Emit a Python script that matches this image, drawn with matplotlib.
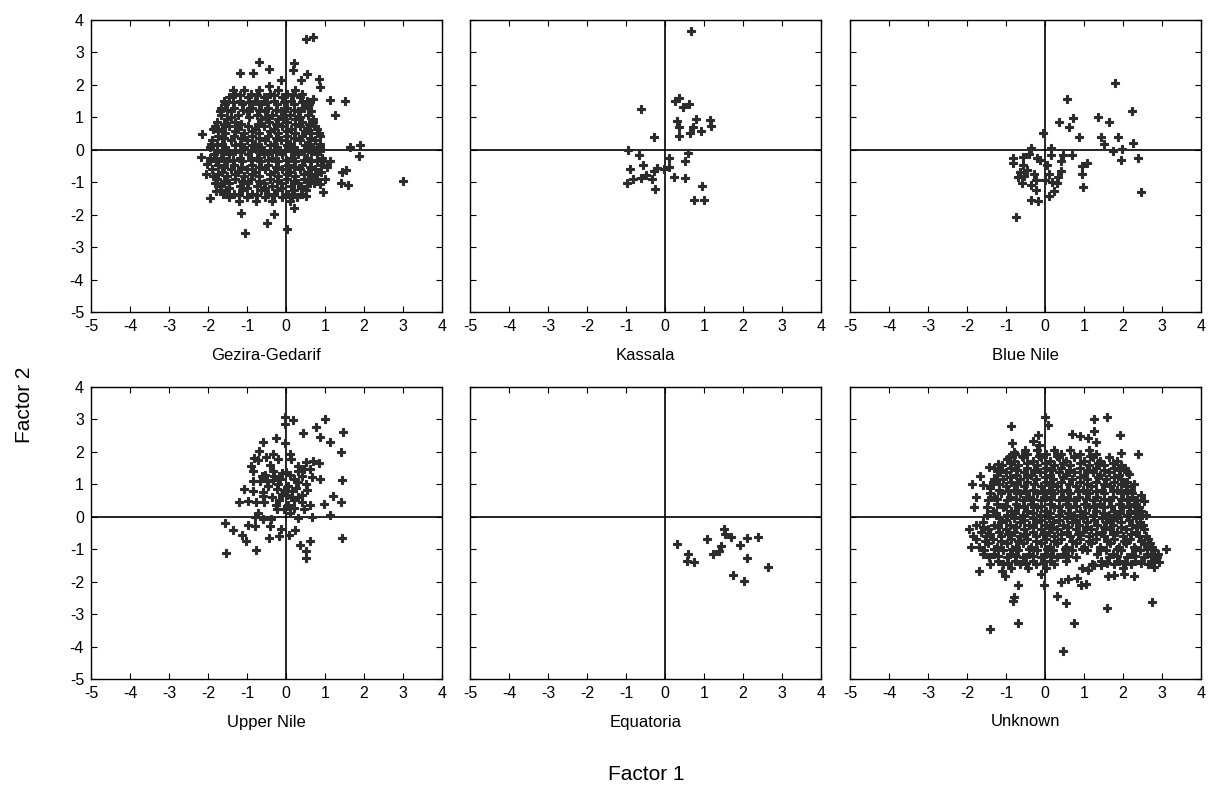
import numpy as np
import matplotlib.pyplot as plt

plt.rcParams['font.family'] = ['Liberation Sans', 'DejaVu Sans']
plt.rcParams['axes.unicode_minus'] = False

panel_names = ["Gezira-Gedarif", "Kassala", "Blue Nile", "Upper Nile", "Equatoria", "Unknown"]
ticks = [-5, -4, -3, -2, -1, 0, 1, 2, 3, 4]

# Kassala - individual points
kassala_x = [0.66, -0.62, 0.26, 0.37, 0.45, 0.62, 0.32, 0.80, 0.36, 0.73, 0.64, 0.92, 1.15, 1.17,
             0.36, -0.27, -0.96, -0.67, -0.57, -0.89, -0.82, -0.97, -0.62, -0.49, -0.34, -0.27,
             -0.21, -0.26, -0.02, 0.10, 0.10, 0.24, 0.50, 0.50, 0.60, 0.94, 0.75, 1.01]
kassala_y = [3.65, 1.26, 1.51, 1.61, 1.31, 1.41, 0.89, 0.96, 0.70, 0.69, 0.51, 0.57, 0.92, 0.72,
             0.41, 0.38, -0.02, -0.17, -0.46, -0.59, -0.89, -1.02, -0.87, -0.79, -0.91, -0.64,
             -0.55, -1.20, -0.58, -0.54, -0.26, -0.83, -0.87, -0.34, -0.11, -1.12, -1.54, -1.55]

# Blue Nile
bluenile_x = [1.79, 0.56, 2.24, 1.37, 1.65, 0.37, 0.72, 0.62, -0.06, 0.86, 1.44, 1.86, 1.52, 2.26,
              1.74, 1.97, 1.94, 2.39, 2.46, 1.08, 0.94, 0.94, 0.98, 0.70, 0.47, 0.40, 0.40, 0.34,
              0.30, 0.22, 0.10, 0.15, 0.15, 0.05, 0.11, 0.00, 0.17, -0.36, -0.42, -0.21, -0.13,
              -0.83, -0.83, -0.56, -0.56, -0.65, -0.70, -0.58, -0.45, -0.36, -0.29, -0.24, -0.23,
              -0.36, -0.19, -0.75, -0.53]
bluenile_y = [2.06, 1.57, 1.21, 1.02, 0.87, 0.85, 0.98, 0.71, 0.52, 0.38, 0.38, 0.38, 0.17, 0.21,
              -0.05, 0.01, -0.31, -0.26, -1.29, -0.42, -0.51, -0.75, -1.15, -0.15, -0.17, -0.36,
              -0.65, -0.85, -1.03, -1.28, -1.42, 0.05, -0.17, -0.48, -0.75, -0.94, -1.00, 0.05,
              -0.13, -0.24, -0.31, -0.26, -0.41, -0.21, -0.46, -0.69, -0.83, -1.03, -0.62, -1.08,
              -0.75, -0.92, -1.24, -1.54, -1.57, -2.08, -0.82]

# Equatoria
equatoria_x = [0.32, 0.60, 0.56, 0.75, 1.07, 1.22, 1.38, 1.43, 1.52, 1.54, 1.68, 1.92, 2.09, 2.39,
               2.10, 2.63, 1.74, 2.03]
equatoria_y = [-0.83, -1.14, -1.37, -1.40, -0.70, -1.14, -1.04, -0.90, -0.37, -0.52, -0.62, -0.86,
               -0.66, -0.63, -1.27, -1.55, -1.79, -1.97]

# Upper Nile
uppernile_x = [-0.03, -0.02, 0.18, 0.99, 0.76, 1.46, 0.43, 0.87, 1.12, 1.40, -0.60, -0.26, -0.03,
               -0.68, -0.33, -0.51, -0.21, 0.09, 0.14, -0.81, -0.72, -0.89, -0.40, -0.85, -0.33,
               0.01, 0.32, 0.50, 0.69, 0.84, 0.45, 0.62, 0.41, 0.67, 0.87, 1.43, -0.85, -0.66,
               -0.50, -0.33, -0.15, 0.21, -1.07, -0.85, -0.60, -0.23, -0.04, 0.15, 0.32, 0.55,
               -1.20, -0.98, -0.77, -0.56, -0.17, 0.03, 0.21, 0.41, 0.61, 0.97, 1.20, 1.42, -0.23,
               -0.04, 0.21, 0.45, -0.72, -0.79, 0.09, 0.32, 0.67, 1.12, -0.59, -0.38, -1.56, -1.37,
               -1.13, -1.02, -0.97, -0.79, -0.40, -0.44, -0.19, -0.12, 0.07, 0.22, 0.35, 0.61,
               0.50, 0.50, 1.44, -0.77, -1.54, -0.45, -0.10, 0.30, -0.62, 0.05,
               -0.55, -0.30, -0.10, 0.10, 0.30, -0.45, -0.20, 0.05, 0.25, 0.50, -0.60, -0.35,
               -0.10, 0.15, 0.40, -0.25]
uppernile_y = [3.07, 2.86, 2.98, 3.02, 2.78, 2.61, 2.58, 2.46, 2.30, 2.01, 2.32, 2.43, 2.28, 2.04,
               1.95, 1.84, 1.78, 1.95, 1.77, 1.81, 1.74, 1.58, 1.60, 1.40, 1.40, 1.38, 1.56, 1.69,
               1.71, 1.65, 1.47, 1.47, 1.25, 1.22, 1.17, 1.14, 1.09, 1.09, 1.09, 1.12, 1.15, 1.17,
               0.86, 0.78, 0.76, 0.86, 0.84, 0.78, 1.07, 0.81, 0.47, 0.50, 0.47, 0.47, 0.53, 0.66,
               0.53, 0.47, 0.37, 0.40, 0.64, 0.47, 0.25, 0.23, 0.27, 0.23, 0.12, -0.01, 0.12, -0.04,
               -0.01, 0.04, -0.06, -0.06, -0.19, -0.42, -0.55, -0.76, -0.25, -0.29, -0.27, -0.66,
               -0.58, -0.37, -0.55, -0.42, -0.86, -0.76, -1.07, -1.26, -0.66, -1.02, -1.12, 0.95,
               0.70, 0.62, 1.25, 0.35,
               1.30, 1.25, 1.35, 1.30, 1.40, 0.95, 1.00, 0.95, 0.90, 1.00, 0.65, 0.60,
               0.70, 0.62, 0.68, 0.35]

# Gezira-Gedarif: outlying points, then the dense core read row by row (y, x positions)
gezira_out_x = [0.50, 0.69, -0.70, -1.17, -0.85, -0.43, 0.21, 0.18, 0.54, 0.39, 0.84, 0.88, -0.13,
                -0.44, 1.12, 1.50, 1.26, 0.69, 0.56, -2.15, 1.65, 1.89, 1.86, -2.18, -2.03, -2.04,
                2.99, 1.44, 1.55, 1.41, 1.59, 1.12, 1.05, -1.94, -1.79, -1.15, -1.04, -0.50,
                -0.32, 0.03, 0.20, 0.50, 0.94, 0.99, 0.88]
gezira_out_y = [3.42, 3.49, 2.70, 2.38, 2.38, 2.50, 2.69, 2.47, 2.33, 2.16, 2.18, 1.92, 2.16,
                1.97, 1.54, 1.49, 1.08, 1.57, 1.34, 0.48, 0.10, 0.15, -0.19, -0.22, -0.43, -0.74,
                -0.96, -0.69, -0.62, -1.01, -1.10, -0.34, -0.53, -1.49, -1.28, -1.95, -2.55, -2.26,
                -1.98, -2.44, -1.80, -1.44, -1.31, -0.89, -1.05]
gezira_rows = [
    (1.84, [-1.36, -1.08, -0.68, -0.20, 0.24]),
    (1.73, [-1.30, -0.90, -0.42, 0.03, 0.42]),
    (1.68, [-1.18, -0.75, -0.30, 0.18]),
    (1.62, [-1.45, -0.97, -0.57, -0.09, 0.35]),
    (1.51, [-1.58, -1.19, -0.79, -0.31, 0.13, 0.53]),
    (1.46, [-1.35, -0.95, -0.50, -0.05, 0.40]),
    (1.40, [-1.56, -1.12, -0.64, -0.24, 0.20, 0.60]),
    (1.29, [-1.66, -1.34, -0.86, -0.46, 0.02, 0.46]),
    (1.24, [-1.52, -1.10, -0.68, -0.25, 0.20]),
    (1.18, [-1.70, -1.41, -1.01, -0.53, -0.13, 0.31, 0.63]),
    (1.07, [-1.67, -1.23, -0.75, -0.35, 0.09, 0.57]),
    (1.02, [-1.40, -0.95, -0.50, -0.08, 0.35]),
    (0.96, [-1.52, -0.64, -0.20, 0.24, 0.68]),
    (0.85, [-1.78, -1.30, -0.44, 0.02, 0.42, 0.70]),
    (0.80, [-1.60, -1.15, -0.72, -0.25, 0.22, 0.58]),
    (0.74, [-1.82, -1.45, -0.97, -0.57, -0.09, 0.35, 0.75]),
    (0.63, [-1.86, -1.63, -1.23, -0.79, -0.31, 0.13, 0.53, 0.80]),
    (0.58, [-1.75, -1.32, -0.88, -0.42, 0.03, 0.48]),
    (0.52, [-1.56, -1.08, -0.68, -0.20, 0.24, 0.64, 0.85]),
    (0.41, [-1.74, -1.34, -0.86, -0.46, 0.02, 0.42, 0.86]),
    (0.36, [-1.60, -1.15, -0.70, -0.25, 0.20, 0.62]),
    (0.30, [-1.89, -1.41, -1.01, -0.53, -0.13, 0.35, 0.75]),
    (0.19, [-1.93, -1.63, -1.19, -0.79, -0.31, 0.09, 0.57, 0.86]),
    (0.14, [-1.78, -1.32, -0.88, -0.42, 0.03, 0.48]),
    (0.08, [-1.96, -1.56, -1.08, -0.64, -0.24, 0.20, 0.68, 0.88]),
    (-0.03, [-1.78, -1.30, -0.90, -0.42, -0.02, 0.46, 0.88]),
    (-0.08, [-1.62, -1.15, -0.70, -0.25, 0.20, 0.64]),
    (-0.14, [-1.85, -1.45, -0.97, -0.57, -0.09, 0.31, 0.79]),
    (-0.25, [-1.95, -1.67, -1.19, -0.75, -0.35, 0.13, 0.53, 0.93]),
    (-0.30, [-1.80, -1.35, -0.90, -0.45, 0.00, 0.45, 0.80]),
    (-0.36, [-1.94, -1.52, -1.12, -0.64, -0.20, 0.24, 0.64, 0.96]),
    (-0.47, [-1.74, -1.34, -0.86, -0.46, 0.04, 0.42, 0.90]),
    (-0.52, [-1.58, -1.15, -0.70, -0.25, 0.20, 0.62]),
    (-0.58, [-1.89, -1.41, -1.01, -0.53, -0.09, 0.35, 0.75]),
    (-0.69, [-1.63, -1.23, -0.79, -0.31, 0.09, 0.57, 0.90]),
    (-0.74, [-1.75, -1.32, -0.88, -0.42, 0.03, 0.45, 0.78]),
    (-0.80, [-1.86, -1.52, -1.08, -0.68, -0.20, 0.24, 0.64]),
    (-0.91, [-1.78, -1.30, -0.90, -0.42, 0.02, 0.46, 0.80]),
    (-0.96, [-1.58, -1.12, -0.68, -0.24, 0.20, 0.60]),
    (-1.02, [-1.83, -1.45, -0.97, -0.57, -0.13, 0.31, 0.72]),
    (-1.13, [-1.67, -1.19, -0.75, -0.35, 0.13, 0.55]),
    (-1.18, [-1.45, -1.00, -0.55, -0.10, 0.38]),
    (-1.24, [-1.70, -1.54, -1.12, -0.64, -0.24, 0.20, 0.52]),
    (-1.35, [-1.62, -1.34, -0.86, -0.46, 0.04, 0.42]),
    (-1.40, [-1.20, -0.75, -0.30, 0.15]),
    (-1.46, [-1.45, -1.01, -0.53, -0.09, 0.28]),
    (-1.57, [-1.21, -0.77, -0.35, 0.11]),
]

# Unknown: outlying points, then the dense core row by row
unknown_out_x = [0.00, 0.07, 1.26, 1.58, 1.26, 1.09, 1.30, 0.68, 0.91, 1.92, -0.87, -0.85, -0.79,
                 -0.32, -0.19, -0.15, 1.95, 2.39, -1.88, -1.77, -1.81, -1.67, -1.43, -1.21, -0.97,
                 -1.58, -1.40, -1.91, -1.68, -1.11, -1.03, -0.70, -0.79, -0.81, -1.41, -0.68,
                 -0.02, 0.45, 0.74, 0.31, 0.54, 0.41, 0.58, 0.81, 0.92, 1.05, 1.59, 2.74, 3.10,
                 1.61, 1.78, 2.03, 2.29, 2.79, 2.93, -0.10, 1.09, 1.26, 1.44, 2.59, 2.55, 2.46,
                 2.38, 2.29, 2.16]
unknown_out_y = [3.07, 2.83, 3.02, 3.09, 2.63, 2.43, 2.31, 2.54, 2.48, 2.51, 2.79, 2.28, 2.01,
                 2.35, 2.51, 2.20, 1.96, 1.94, 1.02, 0.61, 0.30, 1.27, 1.53, 1.63, 1.77, 0.99, 0.88,
                 -0.94, -1.68, -1.68, -1.83, -2.10, -2.48, -2.61, -3.47, -3.27, -2.10, -4.15,
                 -3.27, -2.45, -2.66, -2.01, -1.91, -1.89, -2.10, -2.07, -2.81, -2.63, -0.99,
                 -1.84, -1.79, -1.76, -1.84, -1.55, -1.38, -1.76, -1.65, -1.48, -1.48, 0.06,
                 0.50, 0.66, 0.25, 1.02, 1.33]
unknown_rows = [
    (2.05, [-0.52, -0.20, 0.24, 0.64, 1.12]),
    (1.94, [-0.78, -0.46, 0.02, 0.42, 0.90, 1.30]),
    (1.88, [-0.60, -0.15, 0.30, 0.75, 1.15]),
    (1.83, [-0.93, -0.57, -0.09, 0.35, 0.75, 1.23, 1.63]),
    (1.72, [-0.79, -0.31, 0.13, 0.53, 1.01, 1.41, 1.85]),
    (1.66, [-0.90, -0.45, 0.00, 0.45, 0.90, 1.35, 1.75]),
    (1.61, [-1.10, -0.68, -0.20, 0.24, 0.64, 1.12, 1.52, 1.96]),
    (1.50, [-1.30, -0.86, -0.46, 0.02, 0.42, 0.90, 1.30, 1.78, 2.04]),
    (1.44, [-1.15, -0.72, -0.28, 0.18, 0.62, 1.08, 1.50, 1.92]),
    (1.39, [-1.01, -0.53, -0.13, 0.35, 0.75, 1.23, 1.63, 2.11]),
    (1.28, [-1.23, -0.75, -0.35, 0.13, 0.53, 1.01, 1.41, 1.89]),
    (1.22, [-0.90, -0.45, 0.00, 0.45, 0.90, 1.35, 1.78]),
    (1.17, [-1.30, -1.08, -0.64, -0.24, 0.20, 0.68, 1.08, 1.56, 1.96]),
    (1.06, [-1.34, -0.86, -0.46, 0.02, 0.42, 0.90, 1.30, 1.78, 2.10]),
    (1.00, [-1.18, -0.72, -0.28, 0.18, 0.62, 1.08, 1.52, 1.95]),
    (0.95, [-1.41, -1.01, -0.53, -0.09, 0.31, 0.79, 1.19, 1.67, 2.07]),
    (0.84, [-1.19, -0.79, -0.31, 0.09, 0.57, 0.97, 1.45, 1.85, 2.20]),
    (0.78, [-0.95, -0.50, -0.05, 0.40, 0.85, 1.30, 1.75, 2.10]),
    (0.73, [-1.42, -1.12, -0.64, -0.20, 0.24, 0.64, 1.12, 1.52, 2.00, 2.24]),
    (0.62, [-1.30, -0.90, -0.42, 0.02, 0.46, 0.86, 1.34, 1.74, 2.22]),
    (0.56, [-1.22, -0.75, -0.30, 0.15, 0.60, 1.05, 1.50, 1.95]),
    (0.51, [-1.45, -0.97, -0.57, -0.09, 0.35, 0.75, 1.23, 1.63, 2.11, 2.35]),
    (0.40, [-1.23, -0.75, -0.35, 0.13, 0.53, 1.01, 1.41, 1.89, 2.29]),
    (0.34, [-1.00, -0.55, -0.10, 0.35, 0.80, 1.25, 1.70, 2.15]),
    (0.29, [-1.48, -1.08, -0.68, -0.20, 0.24, 0.64, 1.12, 1.52, 2.00, 2.42]),
    (0.18, [-1.34, -0.86, -0.46, 0.02, 0.42, 0.90, 1.30, 1.78, 2.18, 2.45]),
    (0.12, [-1.25, -0.78, -0.32, 0.12, 0.58, 1.02, 1.48, 1.92, 2.30]),
    (0.07, [-1.50, -0.97, -0.57, -0.13, 0.35, 0.75, 1.23, 1.63, 2.11, 2.48]),
    (-0.04, [-1.19, -0.79, -0.31, 0.09, 0.57, 0.97, 1.45, 1.85, 2.33]),
    (-0.10, [-1.00, -0.55, -0.10, 0.35, 0.80, 1.25, 1.70, 2.15]),
    (-0.15, [-1.58, -1.12, -0.64, -0.24, 0.20, 0.68, 1.08, 1.56, 1.96, 2.44]),
    (-0.26, [-1.78, -1.30, -0.90, -0.42, 0.02, 0.46, 0.86, 1.34, 1.74, 2.22, 2.52]),
    (-0.32, [-1.60, -1.20, -0.75, -0.30, 0.15, 0.60, 1.05, 1.50, 1.95, 2.35]),
    (-0.37, [-1.96, -1.45, -1.01, -0.53, -0.09, 0.31, 0.79, 1.19, 1.67, 2.07, 2.55]),
    (-0.48, [-1.65, -1.19, -0.79, -0.31, 0.09, 0.57, 0.97, 1.45, 1.85, 2.33]),
    (-0.54, [-1.40, -0.95, -0.50, -0.05, 0.40, 0.85, 1.30, 1.75, 2.20]),
    (-0.59, [-1.84, -1.52, -1.12, -0.64, -0.24, 0.24, 0.64, 1.12, 1.52, 2.00, 2.40, 2.60]),
    (-0.70, [-1.78, -1.34, -0.86, -0.46, 0.02, 0.42, 0.90, 1.30, 1.78, 2.18, 2.64]),
    (-0.76, [-1.55, -1.12, -0.68, -0.22, 0.22, 0.68, 1.12, 1.58, 2.02, 2.45]),
    (-0.81, [-1.45, -0.97, -0.57, -0.09, 0.31, 0.79, 1.19, 1.67, 2.07, 2.55, 2.70]),
    (-0.92, [-1.68, -1.23, -0.75, -0.35, 0.13, 0.53, 1.01, 1.41, 1.89, 2.29, 2.75]),
    (-0.98, [-1.30, -0.85, -0.40, 0.05, 0.50, 0.95, 1.40, 1.85, 2.30, 2.62]),
    (-1.03, [-1.56, -1.08, -0.68, -0.20, 0.20, 0.68, 1.08, 1.56, 1.96, 2.44, 2.80]),
    (-1.14, [-1.60, -1.30, -0.90, -0.42, 0.02, 0.46, 1.34, 1.74, 2.22, 2.62, 2.90]),
    (-1.20, [-1.20, -0.75, -0.30, 0.15, 0.60, 1.85, 2.30, 2.72]),
    (-1.25, [-1.43, -0.97, -0.57, -0.09, 0.31, 0.79, 1.63, 2.11, 2.53, 2.88]),
    (-1.36, [-1.21, -0.77, -0.31, 0.13, 0.55, 1.43, 1.89, 2.31, 2.80]),
    (-1.42, [-0.95, -0.50, -0.05, 1.60, 2.05, 2.45]),
    (-1.47, [-1.40, -1.08, -0.64, -0.24, 0.22, 1.21, 1.76, 2.20, 2.64]),
    (-1.58, [-0.88, -0.44, 0.02, 0.95, 2.00]),
]


def rows_to_xy(rows):
    xs, ys = [], []
    for y, row in rows:
        xs.extend(row)
        ys.extend([y] * len(row))
    return xs, ys


gx, gy = rows_to_xy(gezira_rows)
ux, uy = rows_to_xy(unknown_rows)

panel_data = [
    (gezira_out_x + gx, gezira_out_y + gy),
    (kassala_x, kassala_y),
    (bluenile_x, bluenile_y),
    (uppernile_x, uppernile_y),
    (equatoria_x, equatoria_y),
    (unknown_out_x + ux, unknown_out_y + uy),
]

W, H = 1212, 790
fig = plt.figure(figsize=(W / 100, H / 100), dpi=100)

col_left = [91, 470, 850]
row_top = [20, 387]
pw, ph = 351, 292

for i, name in enumerate(panel_names):
    r, c = divmod(i, 3)
    ax = fig.add_axes([col_left[c] / W, 1 - (row_top[r] + ph) / H, pw / W, ph / H])
    xs, ys = panel_data[i]
    ax.axhline(0, color='black', lw=1.2, zorder=1)
    ax.axvline(0, color='black', lw=1.2, zorder=1)
    ax.plot(xs, ys, linestyle='none', marker='P', markersize=6.0,
            markerfacecolor='#2b2b2b', markeredgecolor='#2b2b2b', markeredgewidth=0.8, zorder=2)
    ax.set_xlim(-5, 4)
    ax.set_ylim(-5, 4)
    ax.set_xticks(ticks)
    ax.set_yticks(ticks)
    ax.tick_params(direction='in', top=True, right=True, length=4, width=0.8,
                   labelsize=11.5, pad=5)
    if c != 0:
        ax.set_yticklabels([])
    for s in ax.spines.values():
        s.set_linewidth(1.0)
    ax.text(0.5, -43 / ph, name, transform=ax.transAxes, ha='center', va='center', fontsize=12)

fig.text(646 / W, 1 - 775 / H, "Factor 1", ha='center', va='center', fontsize=15)
fig.text(25 / W, 1 - 405 / H, "Factor 2", ha='center', va='center', fontsize=15, rotation=90)

plt.savefig('out.png', dpi=100)
